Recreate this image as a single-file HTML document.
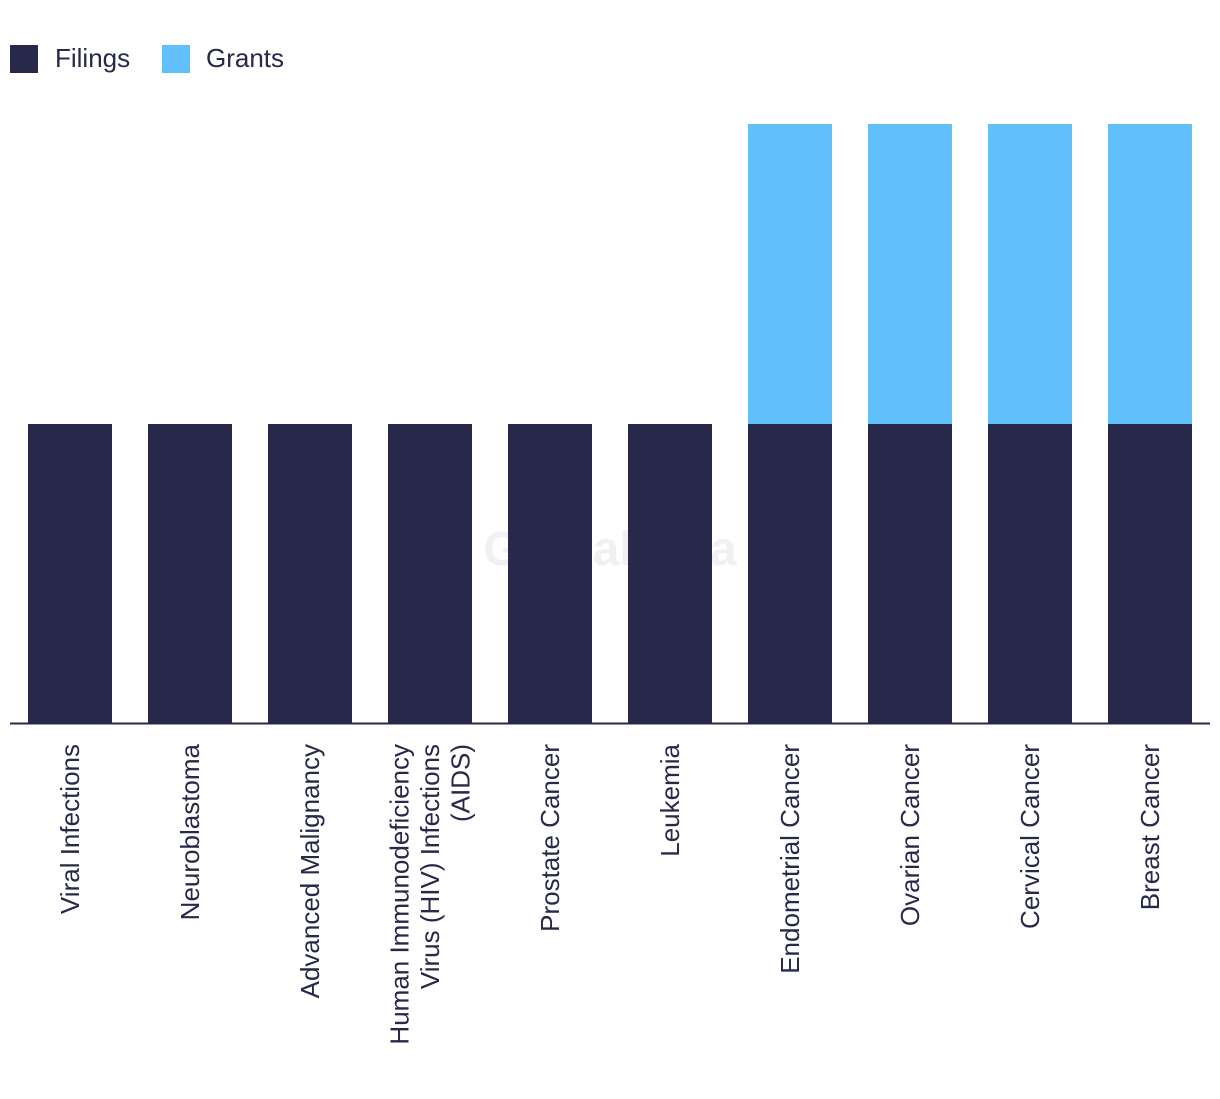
<!DOCTYPE html>
<html><head><meta charset="utf-8"><style>
body{margin:0;background:#fff;width:1220px;height:1094px;overflow:hidden;font-family:"Liberation Sans",sans-serif}
</style></head><body>
<svg id="chart" width="1220" height="1094" xmlns="http://www.w3.org/2000/svg" font-family="Liberation Sans, sans-serif">
<g>
<rect x="10" y="45" width="28" height="28" fill="#27284a"/>
<text x="55" y="67" font-size="26" fill="#27284a">Filings</text>
<rect x="162" y="45" width="28" height="28" fill="#61bffa"/>
<text x="206" y="67" font-size="26" fill="#27284a">Grants</text>
</g>
<text x="610" y="565" text-anchor="middle" font-size="48" font-weight="bold" fill="#f1f1f4">GlobalData</text>
<g id="bars"></g>
<line x1="10" y1="723.5" x2="1210" y2="723.5" stroke="#27284a" stroke-width="2"/>
<g id="labels"></g>
</svg>
<script>
const categories=[["Viral Infections"],["Neuroblastoma"],["Advanced Malignancy"],["Human Immunodeficiency","Virus (HIV) Infections","(AIDS)"],["Prostate Cancer"],["Leukemia"],["Endometrial Cancer"],["Ovarian Cancer"],["Cervical Cancer"],["Breast Cancer"]];
const filings=[1,1,1,1,1,1,1,1,1,1];
const grants=[0,0,0,0,0,0,1,1,1,1];
const NS="http://www.w3.org/2000/svg";
const baseY=724, unit=300, x0=28, step=120, bw=84;
const xPos=i=>x0+i*step;
const yScale=v=>v*unit;
const bars=document.getElementById('bars'), labels=document.getElementById('labels');
categories.forEach((c,i)=>{
  const hf=yScale(filings[i]), hg=yScale(grants[i]);
  const r1=document.createElementNS(NS,'rect');
  r1.setAttribute('x',xPos(i));r1.setAttribute('y',baseY-hf);r1.setAttribute('width',bw);r1.setAttribute('height',hf);r1.setAttribute('fill','#27284a');
  
  
  bars.appendChild(r1);
  if(hg>0){
    const r2=document.createElementNS(NS,'rect');
    r2.setAttribute('x',xPos(i));r2.setAttribute('y',baseY-hf-hg);r2.setAttribute('width',bw);r2.setAttribute('height',hg);r2.setAttribute('fill','#61bffa');
    
    
    bars.appendChild(r2);
  }
  const cx=xPos(i)+bw/2, n=c.length, lh=30.5;
  c.forEach((line,j)=>{
    const t=document.createElementNS(NS,'text');
    const lx=cx+(j-(n-1)/2)*lh+9;
    t.setAttribute('transform','translate('+lx+',744) rotate(-90)');
    t.setAttribute('text-anchor','end');
    t.setAttribute('font-size','26');t.setAttribute('fill','#27284a');
    t.textContent=line;
    
    
    labels.appendChild(t);
  });
});
</script>
</body></html>
